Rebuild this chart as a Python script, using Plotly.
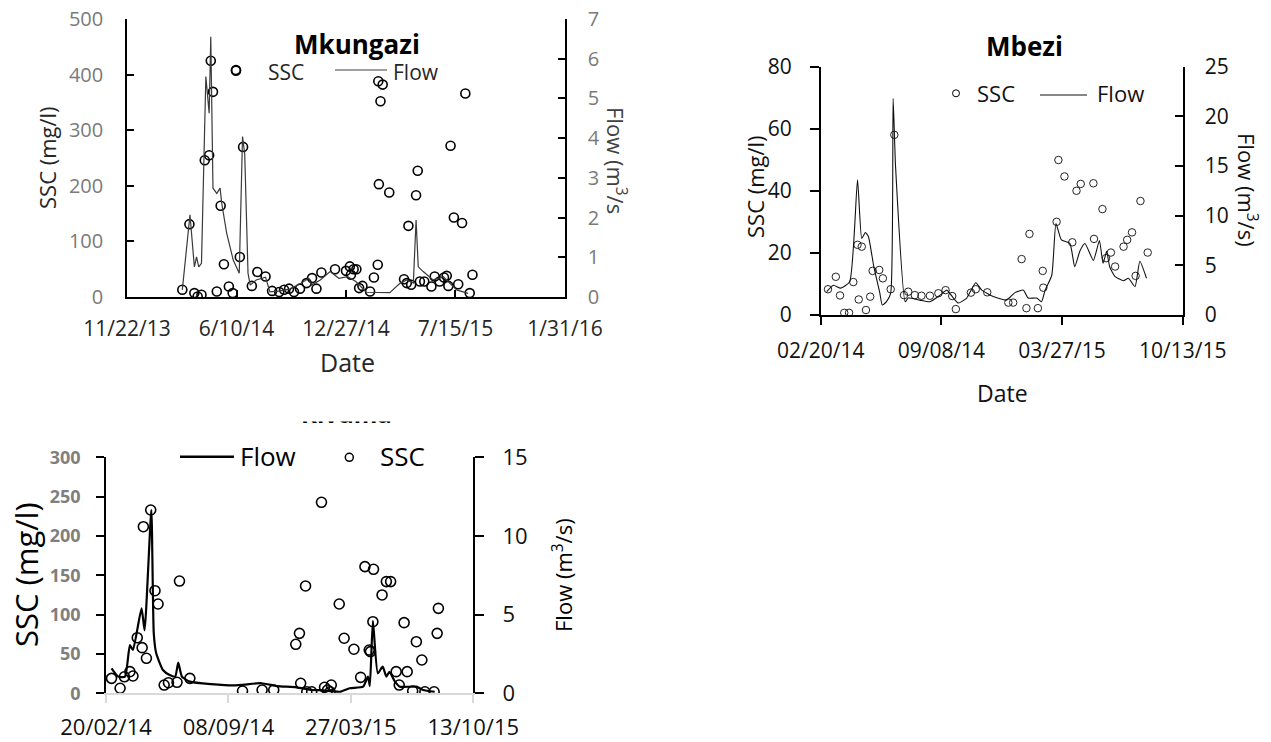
import plotly.graph_objects as go

W, H = 1271, 742
F = "Open Sans"

# ---------------- Mkungazi ----------------
mk_ssc_dates = ["2014-03-03", "2014-03-16", "2014-03-25", "2014-03-31", "2014-04-07", "2014-04-13", "2014-04-21",
                "2014-04-24", "2014-04-28", "2014-05-05", "2014-05-12", "2014-05-18", "2014-05-27", "2014-06-03",
                "2014-06-09", "2014-06-16", "2014-06-22", "2014-07-08", "2014-07-18", "2014-08-02", "2014-08-14",
                "2014-08-27", "2014-09-05", "2014-09-14", "2014-09-23", "2014-10-04", "2014-10-16", "2014-10-26",
                "2014-11-03", "2014-11-12", "2014-12-07", "2014-12-27", "2015-01-03", "2015-01-05", "2015-01-10",
                "2015-01-15", "2015-01-20", "2015-01-26", "2015-02-09", "2015-02-16", "2015-02-23", "2015-02-24",
                "2015-02-25", "2015-02-28", "2015-03-04", "2015-03-16", "2015-04-12", "2015-04-17", "2015-04-20",
                "2015-04-25", "2015-05-04", "2015-05-07", "2015-05-11", "2015-05-19", "2015-06-01", "2015-06-07",
                "2015-06-16", "2015-06-24", "2015-06-29", "2015-07-02", "2015-07-06", "2015-07-12", "2015-07-20",
                "2015-07-27", "2015-08-02", "2015-08-10", "2015-08-15"]
mk_ssc = [13, 131, 7, 1, 4, 246, 255, 425, 369, 10, 164, 59, 19, 7, 407, 72, 270, 20, 45, 37, 11, 9, 13, 15, 9, 15,
          25, 34, 15, 44, 50, 47, 55, 40, 50, 50, 16, 20, 10, 35, 58, 388, 203, 352, 382, 188, 32, 25, 128, 22, 183,
          227, 28, 28, 19, 37, 28, 35, 38, 20, 272, 143, 23, 133, 366, 7, 40]
mk_flow_dates = ["2014-03-03", "2014-03-17", "2014-03-25", "2014-03-29", "2014-04-02", "2014-04-07", "2014-04-15",
                 "2014-04-18", "2014-04-21", "2014-04-24", "2014-04-28", "2014-05-05", "2014-05-11", "2014-05-14",
                 "2014-05-23", "2014-06-04", "2014-06-15", "2014-06-21", "2014-06-25", "2014-07-01", "2014-07-05",
                 "2014-07-16", "2014-08-02", "2014-08-10", "2014-08-25", "2014-09-15", "2014-10-05", "2014-10-20",
                 "2014-10-25", "2014-11-10", "2014-11-28", "2014-12-14", "2014-12-30", "2015-01-14", "2015-02-02",
                 "2015-03-17", "2015-04-05", "2015-04-17", "2015-04-29", "2015-05-04", "2015-05-08", "2015-05-17",
                 "2015-06-04", "2015-06-23", "2015-07-08", "2015-07-17", "2015-07-29", "2015-08-07"]
mk_flow = [0.18, 2.07, 0.76, 1.01, 0.76, 0.85, 5.55, 4.96, 4.63, 6.55, 2.74, 2.61, 2.74, 2.36, 1.61, 0.93, 0.60, 4.04,
           3.60, 0.60, 0.30, 0.43, 0.50, 0.13, 0.15, 0.20, 0.34, 0.47, 0.30, 0.43, 0.64, 0.47, 0.51, 0.39, 0.12, 0.11,
           0.35, 0.43, 0.35, 1.94, 0.76, 0.64, 0.43, 0.51, 0.30, 0.18, 0.13, 0.09]
mk_tickvals = ["2013-11-22", "2014-06-10", "2014-12-27", "2015-07-15", "2016-01-31"]
mk_ticktext = ["11/22/13", "6/10/14", "12/27/14", "7/15/15", "1/31/16"]

# ---------------- Mbezi ----------------
mb_ssc_dates = ["2014-03-04", "2014-03-17", "2014-03-24", "2014-03-31", "2014-04-08", "2014-04-15", "2014-04-22",
                "2014-04-24", "2014-04-29", "2014-05-06", "2014-05-13", "2014-05-17", "2014-05-28", "2014-06-03",
                "2014-06-16", "2014-06-22", "2014-07-08", "2014-07-15", "2014-07-26", "2014-08-06", "2014-08-20",
                "2014-09-03", "2014-09-15", "2014-09-26", "2014-10-02", "2014-10-27", "2014-11-04", "2014-11-23",
                "2014-12-28", "2015-01-05", "2015-01-19", "2015-01-27", "2015-02-01", "2015-02-15", "2015-02-23",
                "2015-02-24", "2015-03-18", "2015-03-21", "2015-03-31", "2015-04-13", "2015-04-20", "2015-04-27",
                "2015-05-18", "2015-05-19", "2015-06-02", "2015-06-08", "2015-06-16", "2015-06-23", "2015-07-07",
                "2015-07-13", "2015-07-21", "2015-07-27", "2015-08-04", "2015-08-16"]
mb_ssc = [8.3, 12.3, 6.3, 0.7, 0.7, 10.6, 22.6, 5.0, 22.0, 1.6, 5.9, 14.2, 14.5, 11.8, 8.3, 58.0, 6.4, 7.5, 6.4, 6.2,
          6.2, 7.0, 8.0, 6.1, 1.9, 7.2, 8.3, 7.3, 4.0, 4.0, 18.0, 2.2, 26.1, 2.2, 14.2, 8.8, 30.0, 49.9, 44.6, 23.4,
          40.0, 42.2, 42.4, 24.5, 34.1, 18.3, 20.1, 15.6, 22.0, 24.2, 26.6, 12.6, 36.7, 20.1]
mb_flow_dates = ["2014-03-02", "2014-03-13", "2014-03-25", "2014-04-09", "2014-04-22", "2014-04-29", "2014-05-05",
                 "2014-05-10", "2014-05-19", "2014-05-29", "2014-06-02", "2014-06-09", "2014-06-16", "2014-06-20",
                 "2014-06-24", "2014-07-10", "2014-07-15", "2014-08-03", "2014-08-20", "2014-09-06", "2014-09-17",
                 "2014-09-28", "2014-10-06", "2014-10-20", "2014-11-04", "2014-11-14", "2014-12-03", "2014-12-25",
                 "2015-01-08", "2015-01-22", "2015-01-30", "2015-02-13", "2015-02-21", "2015-02-27", "2015-03-10",
                 "2015-03-17", "2015-03-26", "2015-04-09", "2015-04-17", "2015-04-26", "2015-05-04", "2015-05-18",
                 "2015-05-28", "2015-06-03", "2015-06-09", "2015-06-14", "2015-06-23", "2015-07-07", "2015-07-15",
                 "2015-07-26", "2015-08-03", "2015-08-14"]
mb_flow = [2.35, 3.0, 2.7, 3.35, 13.6, 7.7, 8.3, 7.9, 4.86, 2.2, 1.0, 1.34, 2.2, 21.8, 15.0, 1.34, 1.7, 1.5, 1.34, 2.0,
           2.5, 1.7, 1.2, 1.7, 3.25, 2.5, 1.85, 1.5, 2.25, 2.5, 1.7, 1.7, 1.34, 2.5, 4.0, 9.2, 7.55, 7.2, 4.86, 6.5,
           7.2, 5.5, 7.5, 5.2, 6.4, 4.86, 3.86, 3.45, 3.7, 2.85, 5.4, 3.7]
mb_tickvals = ["2014-02-20", "2014-09-08", "2015-03-27", "2015-10-13"]
mb_ticktext = ["02/20/14", "09/08/14", "03/27/15", "10/13/15"]

# ---------------- Kivuma ----------------
kv_ssc_dates = ["2014-03-01", "2014-03-15", "2014-03-22", "2014-03-31", "2014-04-05", "2014-04-12", "2014-04-20",
                "2014-04-22", "2014-04-27", "2014-05-04", "2014-05-11", "2014-05-16", "2014-05-26", "2014-06-02",
                "2014-06-16", "2014-06-20", "2014-07-07", "2014-10-01", "2014-11-02", "2014-11-21", "2014-12-27",
                "2015-01-02", "2015-01-04", "2015-01-12", "2015-01-14", "2015-01-22", "2015-02-07", "2015-02-12",
                "2015-02-17", "2015-02-21", "2015-02-23", "2015-03-08", "2015-03-16", "2015-04-01", "2015-04-12",
                "2015-04-19", "2015-04-26", "2015-04-28", "2015-05-02", "2015-05-03", "2015-05-17", "2015-05-24",
                "2015-05-31", "2015-06-09", "2015-06-14", "2015-06-22", "2015-06-27", "2015-07-06", "2015-07-12",
                "2015-07-21", "2015-07-26", "2015-08-10", "2015-08-15", "2015-08-17"]
kv_ssc = [19, 6.4, 21, 27.5, 22, 70.7, 58, 211.8, 44.5, 233, 130.4, 113.5, 10.5, 13.5, 14, 142.7, 19, 2.9, 4.2, 4.2,
          62.3, 76.2, 12.7, 136.4, 2, 2, 242.8, 7.6, 4.2, 2, 10.5, 113.5, 70, 56, 20.3, 161, 55, 53, 91, 157.6, 125,
          142, 142, 27.5, 10.5, 89.8, 27.5, 2.9, 65.6, 42.3, 2, 2, 76.2, 108]
kv_flow_dates = ["2014-03-01", "2014-03-12", "2014-03-23", "2014-03-31", "2014-04-05", "2014-04-19", "2014-04-24",
                 "2014-05-05", "2014-05-09", "2014-05-13", "2014-05-24", "2014-06-04", "2014-06-13", "2014-06-18",
                 "2014-06-24", "2014-07-07", "2014-09-16", "2014-11-01", "2014-11-26", "2014-12-28", "2015-01-22",
                 "2015-02-05", "2015-03-09", "2015-03-25", "2015-04-16", "2015-04-24", "2015-04-27", "2015-05-02",
                 "2015-05-10", "2015-05-18", "2015-05-24", "2015-05-29", "2015-06-07", "2015-06-15", "2015-07-12",
                 "2015-07-23", "2015-08-11"]
kv_flow = [1.59, 1.06, 1.06, 3.07, 2.75, 5.4, 4.0, 11.65, 3.8, 2.54, 1.48, 1.16, 1.06, 1.95, 1.06, 0.74, 0.5, 0.64,
           0.46, 0.38, 0.21, 0.2, 0.1, 0.32, 0.42, 1.06, 0.46, 4.6, 1.27, 1.69, 1.06, 1.37, 0.74, 0.42, 0.42, 0.21, 0.1]
kv_tickvals = ["2014-02-20", "2014-09-08", "2015-03-27", "2015-10-13"]
kv_ticktext = ["20/02/14", "08/09/14", "27/03/15", "13/10/15"]


def px(x):
    return x / W


def py(y):
    return 1 - y / H


fig = go.Figure()

# Mkungazi
fig.add_trace(go.Scatter(x=mk_ssc_dates, y=mk_ssc, mode="markers", name="SSC", xaxis="x", yaxis="y",
                         marker=dict(symbol="circle-open", size=9, color="black", line=dict(width=1.6))))
fig.add_trace(go.Scatter(x=mk_flow_dates, y=mk_flow, mode="lines", name="Flow", xaxis="x", yaxis="y2",
                         line=dict(color="#3a3a3a", width=1.2)))
# Mbezi
fig.add_trace(go.Scatter(x=mb_ssc_dates, y=mb_ssc, mode="markers", name="SSC", xaxis="x2", yaxis="y3",
                         marker=dict(symbol="circle-open", size=7.5, color="#222", line=dict(width=1))))
fig.add_trace(go.Scatter(x=mb_flow_dates, y=mb_flow, mode="lines", name="Flow", xaxis="x2", yaxis="y4",
                         line=dict(color="#111", width=1.1, shape="spline", smoothing=0.5)))
# Kivuma
fig.add_trace(go.Scatter(x=kv_ssc_dates, y=kv_ssc, mode="markers", name="SSC", xaxis="x3", yaxis="y5",
                         marker=dict(symbol="circle-open", size=10, color="black", line=dict(width=1.6))))
fig.add_trace(go.Scatter(x=kv_flow_dates, y=kv_flow, mode="lines", name="Flow", xaxis="x3", yaxis="y6",
                         line=dict(color="black", width=2.2, shape="spline", smoothing=0.5)))


def base_axis(**kw):
    d = dict(showgrid=False, zeroline=False, showline=True, linecolor="black", linewidth=1.5,
             tickcolor="black", tickwidth=1.5, automargin=False)
    d.update(kw)
    return d


layout = dict(
    template="none",
    width=W, height=H, autosize=False, showlegend=False,
    margin=dict(l=0, r=0, t=0, b=0, pad=0),
    paper_bgcolor="white", plot_bgcolor="white",
    font=dict(family=F, color="black"),
    # Mkungazi
    xaxis=base_axis(domain=[px(127), px(565)], anchor="y", type="date",
                    range=["2013-11-21 23:00", "2016-01-31 01:00"],
                    tickvals=mk_tickvals, ticktext=mk_ticktext, ticks="inside", ticklen=7,
                    tickfont=dict(family=F, size=21, color="#262626"), ticklabelstandoff=12),
    yaxis=base_axis(domain=[py(297), py(19)], anchor="x", range=[0, 500], tick0=0, dtick=100,
                    ticks="inside", ticklen=7, tickfont=dict(family=F, size=20, color="#7a7a7a"),
                    ticklabelstandoff=18),
    yaxis2=base_axis(overlaying="y", side="right", anchor="x", range=[0, 7], tick0=0, dtick=1,
                     ticks="inside", ticklen=7, tickfont=dict(family=F, size=20, color="#7a7a7a"),
                     ticklabelstandoff=17),
    # Mbezi
    xaxis2=base_axis(domain=[px(820.7), px(1182.7)], anchor="y3", type="date",
                     range=["2014-02-19 23:00", "2015-10-13 01:00"],
                     tickvals=mb_tickvals, ticktext=mb_ticktext, ticks="outside", ticklen=8,
                     tickfont=dict(family=F, size=21, color="#111"), ticklabelstandoff=8),
    yaxis3=base_axis(domain=[py(315), py(66.5)], anchor="x2", range=[0, 80], tick0=0, dtick=20,
                     ticks="outside", ticklen=9, tickfont=dict(family=F, size=21, color="#111"),
                     ticklabelstandoff=14),
    yaxis4=base_axis(overlaying="y3", side="right", anchor="x2", range=[0, 25], tick0=0, dtick=5,
                     ticks="inside", ticklen=8, tickfont=dict(family=F, size=21, color="#111"),
                     ticklabelstandoff=16),
    # Kivuma
    xaxis3=base_axis(domain=[px(106), px(473.3)], anchor="y5", type="date",
                     range=["2014-02-19 23:00", "2015-10-13 01:00"],
                     tickvals=kv_tickvals, ticktext=kv_ticktext, ticks="outside", ticklen=8,
                     linecolor="#d9d9d9", tickcolor="#d9d9d9", linewidth=2,
                     tickfont=dict(family=F, size=22, color="#111"), ticklabelstandoff=5),
    yaxis5=base_axis(domain=[py(693.3), py(457.3)], anchor="x3", range=[0, 300], tick0=0, dtick=50,
                     ticks="outside", ticklen=8,
                     tickfont=dict(family=F, size=18, color="#7f7f7f", weight="bold"),
                     ticklabelstandoff=12),
    yaxis6=base_axis(overlaying="y5", side="right", anchor="x3", range=[0, 15], tick0=0, dtick=5,
                     ticks="outside", ticklen=9, tickfont=dict(family=F, size=22, color="#111"),
                     ticklabelstandoff=14),
)
fig.update_layout(**layout)


def ann(text, x, y, size, color="black", bold=False, angle=0, xanchor="center"):
    fig.add_annotation(text=f"<b>{text}</b>" if bold else text, x=px(x), y=py(y), xref="paper", yref="paper",
                       showarrow=False, xanchor=xanchor, yanchor="middle", textangle=angle,
                       font=dict(family=F, size=size, color=color))


def legend_circle(x, y, d, w):
    fig.add_shape(type="circle", xref="paper", yref="paper", xsizemode="pixel", ysizemode="pixel",
                  xanchor=px(x), yanchor=py(y), x0=-d / 2, x1=d / 2, y0=-d / 2, y1=d / 2,
                  line=dict(color="black", width=w))


def legend_line(x0, x1, y, w, color="black"):
    fig.add_shape(type="line", xref="paper", yref="paper", x0=px(x0), x1=px(x1), y0=py(y), y1=py(y),
                  line=dict(color=color, width=w))


# Mkungazi texts
ann("Mkungazi", 357, 44, 26, "black", bold=True)
legend_circle(236, 70, 9, 1.6)
ann("SSC", 266, 72, 21, "#262626", xanchor="left")
legend_line(335, 387, 70, 1.2, "#404040")
ann("Flow", 391, 72, 21, "#262626", xanchor="left")
ann("SSC (mg/l)", 47, 158, 22, "#262626", angle=-90)
ann("Flow (m<sup>3</sup>/s", 617, 160, 22, "#404040", angle=90)
ann("Date", 347, 362, 25, "#262626")

# Mbezi texts
ann("Mbezi", 1024, 46, 26, "black", bold=True)
legend_circle(956, 93.3, 7, 1)
ann("SSC", 975, 93, 22, "#111", xanchor="left")
legend_line(1040, 1087, 95, 1.1, "#111")
ann("Flow", 1095, 93, 22, "#111", xanchor="left")
ann("SSC (mg/l)", 755, 187, 22, "#111", angle=-90)
ann("Flow (m<sup>3</sup>/s)", 1248, 190, 22, "#111", angle=90)
ann("Date", 1002, 393, 23, "#111")

# Kivuma texts (title partly hidden, as in the original)
ann("Kivuma", 346.5, 413.5, 24, "black", bold=True)
fig.add_annotation(text=" ", x=px(346.5), y=py(406.5), xref="paper", yref="paper", showarrow=False,
                   xanchor="center", yanchor="middle", width=130, height=28, bgcolor="white", borderpad=0)
legend_line(180, 234, 456.7, 2.5)
ann("Flow", 238, 456, 26, "black", xanchor="left")
legend_circle(349.3, 457.3, 8, 1.5)
ann("SSC", 378, 456, 26, "black", xanchor="left")
ann("SSC (mg/l)", 26, 575, 31, "black", angle=-90)
ann("Flow (m<sup>3</sup>/s)", 562, 575, 22, "black", angle=-90)

fig.write_html("out.html")
